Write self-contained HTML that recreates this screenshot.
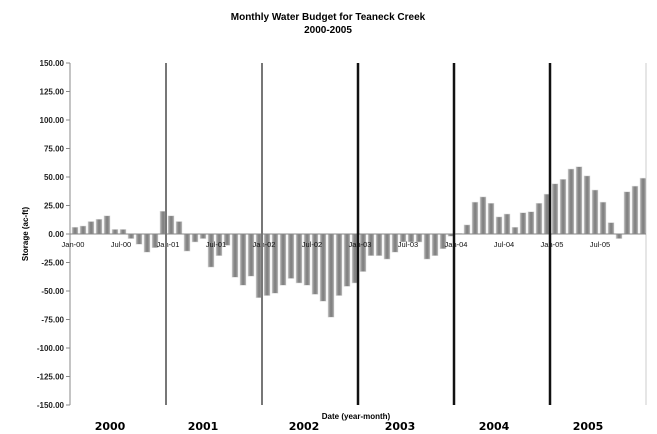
<!DOCTYPE html>
<html><head><meta charset="utf-8"><style>
html,body{margin:0;padding:0;background:#fff;}
svg{display:block;font-family:"Liberation Sans","DejaVu Sans",sans-serif;}
</style></head><body>
<svg width="657" height="434" viewBox="0 0 657 434" xmlns="http://www.w3.org/2000/svg">
<defs>
<linearGradient id="g" x1="0" y1="0" x2="1" y2="0">
<stop offset="0" stop-color="#b4b4b4"/><stop offset="0.5" stop-color="#7c7c7c"/><stop offset="1" stop-color="#a4a4a4"/>
</linearGradient>
</defs>
<text x="328" y="20" text-anchor="middle" font-size="10" font-weight="bold">Monthly Water Budget for Teaneck Creek</text>
<text x="328" y="33" text-anchor="middle" font-size="10" font-weight="bold">2000-2005</text>
<g font-size="8" font-weight="bold" text-anchor="end" fill="#222">
<text x="64" y="66">150.00</text><text x="64" y="94.5">125.00</text><text x="64" y="123">100.00</text>
<text x="64" y="151.5">75.00</text><text x="64" y="180">50.00</text><text x="64" y="208.5">25.00</text>
<text x="64" y="237">0.00</text><text x="64" y="265.5">-25.00</text><text x="64" y="294">-50.00</text>
<text x="64" y="322.5">-75.00</text><text x="64" y="351">-100.00</text><text x="64" y="379.5">-125.00</text>
<text x="64" y="408">-150.00</text>
</g>
<text transform="translate(28,234) rotate(-90)" text-anchor="middle" font-size="8" font-weight="bold">Storage (ac-ft)</text>
<g stroke="#888" stroke-width="1">
<line x1="70" y1="63" x2="70" y2="405"/>
<line x1="66" y1="63" x2="70" y2="63"/><line x1="66" y1="91.5" x2="70" y2="91.5"/><line x1="66" y1="120" x2="70" y2="120"/>
<line x1="66" y1="148.5" x2="70" y2="148.5"/><line x1="66" y1="177" x2="70" y2="177"/><line x1="66" y1="205.5" x2="70" y2="205.5"/>
<line x1="66" y1="234" x2="70" y2="234"/><line x1="66" y1="262.5" x2="70" y2="262.5"/><line x1="66" y1="291" x2="70" y2="291"/>
<line x1="66" y1="319.5" x2="70" y2="319.5"/><line x1="66" y1="348" x2="70" y2="348"/><line x1="66" y1="376.5" x2="70" y2="376.5"/>
<line x1="66" y1="405" x2="70" y2="405"/>
<line x1="646" y1="63" x2="646" y2="405" stroke="#ccc"/>
</g>
<g fill="url(#g)" stroke="#ddd" stroke-width="0.5">
<rect x="72" y="227.2" width="6" height="6.8"/><rect x="80" y="226" width="6" height="8"/><rect x="88" y="221.5" width="6" height="12.5"/><rect x="96" y="219.2" width="6" height="14.8"/><rect x="104" y="215.8" width="6" height="18.2"/><rect x="112" y="229.4" width="6" height="4.6"/><rect x="120" y="229.4" width="6" height="4.6"/><rect x="128" y="234" width="6" height="4.6"/><rect x="136" y="234" width="6" height="10.3"/><rect x="144" y="234" width="6" height="18.2"/><rect x="152" y="234" width="6" height="13.7"/><rect x="160" y="211.2" width="6" height="22.8"/>
<rect x="168" y="215.8" width="6" height="18.2"/><rect x="176" y="221.5" width="6" height="12.5"/><rect x="184" y="234" width="6" height="17.1"/><rect x="192" y="234" width="6" height="8"/><rect x="200" y="234" width="6" height="4.6"/><rect x="208" y="234" width="6" height="33.1"/><rect x="216" y="234" width="6" height="21.7"/><rect x="224" y="234" width="6" height="11.4"/><rect x="232" y="234" width="6" height="43.3"/><rect x="240" y="234" width="6" height="51.3"/><rect x="248" y="234" width="6" height="42.2"/><rect x="256" y="234" width="6" height="63.8"/>
<rect x="264" y="234" width="6" height="61.6"/><rect x="272" y="234" width="6" height="59.3"/><rect x="280" y="234" width="6" height="51.3"/><rect x="288" y="234" width="6" height="44.5"/><rect x="296" y="234" width="6" height="49"/><rect x="304" y="234" width="6" height="51.3"/><rect x="312" y="234" width="6" height="60.4"/><rect x="320" y="234" width="6" height="67.3"/><rect x="328" y="234" width="6" height="83.2"/><rect x="336" y="234" width="6" height="61.6"/><rect x="344" y="234" width="6" height="52.4"/><rect x="352" y="234" width="6" height="49"/>
<rect x="360" y="234" width="6" height="37.6"/><rect x="368" y="234" width="6" height="21.7"/><rect x="376" y="234" width="6" height="21.7"/><rect x="384" y="234" width="6" height="25.1"/><rect x="392" y="234" width="6" height="18.2"/><rect x="400" y="234" width="6" height="8"/><rect x="408" y="234" width="6" height="8"/><rect x="416" y="234" width="6" height="8"/><rect x="424" y="234" width="6" height="25.1"/><rect x="432" y="234" width="6" height="21.7"/><rect x="440" y="234" width="6" height="14.8"/><rect x="448" y="234" width="6" height="2.3"/>
<rect x="456" y="233.4" width="6" height="0.6"/><rect x="464" y="224.9" width="6" height="9.1"/><rect x="472" y="202.1" width="6" height="31.9"/><rect x="480" y="196.9" width="6" height="37.1"/><rect x="488" y="203.2" width="6" height="30.8"/><rect x="496" y="216.9" width="6" height="17.1"/><rect x="504" y="214" width="6" height="20"/><rect x="512" y="227.2" width="6" height="6.8"/><rect x="520" y="212.7" width="6" height="21.3"/><rect x="528" y="211.7" width="6" height="22.3"/><rect x="536" y="203.2" width="6" height="30.8"/><rect x="544" y="194.1" width="6" height="39.9"/>
<rect x="552" y="183.8" width="6" height="50.2"/><rect x="560" y="179.3" width="6" height="54.7"/><rect x="568" y="169" width="6" height="65"/><rect x="576" y="166.7" width="6" height="67.3"/><rect x="584" y="175.9" width="6" height="58.1"/><rect x="592" y="190" width="6" height="44"/><rect x="600" y="202.1" width="6" height="31.9"/><rect x="608" y="222.6" width="6" height="11.4"/><rect x="616" y="234" width="6" height="4.6"/><rect x="624" y="191.8" width="6" height="42.2"/><rect x="632" y="186.1" width="6" height="47.9"/><rect x="640" y="178.1" width="6" height="55.9"/>
</g>
<line x1="70" y1="234" x2="646" y2="234" stroke="#888" stroke-width="1"/>
<g font-size="7.5" text-anchor="middle" fill="#111">
<text x="73" y="247">Jan-00</text><text x="121" y="247">Jul-00</text><text x="168" y="247">Jan-01</text><text x="216" y="247">Jul-01</text>
<text x="264" y="247">Jan-02</text><text x="312" y="247">Jul-02</text><text x="360" y="247">Jan-03</text><text x="408" y="247">Jul-03</text>
<text x="456" y="247">Jan-04</text><text x="504" y="247">Jul-04</text><text x="552" y="247">Jan-05</text><text x="600" y="247">Jul-05</text>
</g>
<line x1="166" y1="63" x2="166" y2="405" stroke="#777" stroke-width="2"/>
<line x1="262" y1="63" x2="262" y2="405" stroke="#777" stroke-width="2"/>
<line x1="358" y1="63" x2="358" y2="405" stroke="#111" stroke-width="2.5"/>
<line x1="454" y1="63" x2="454" y2="405" stroke="#111" stroke-width="2.5"/>
<line x1="550" y1="63" x2="550" y2="405" stroke="#111" stroke-width="2.5"/>
<text x="356" y="419" text-anchor="middle" font-size="8" font-weight="bold">Date (year-month)</text>
<g font-size="11" font-weight="bold" text-anchor="middle" font-family="DejaVu Sans, sans-serif">
<text x="110" y="430">2000</text><text x="203" y="430">2001</text><text x="304" y="430">2002</text>
<text x="400" y="430">2003</text><text x="494" y="430">2004</text><text x="588" y="430">2005</text>
</g>
</svg>
</body></html>
